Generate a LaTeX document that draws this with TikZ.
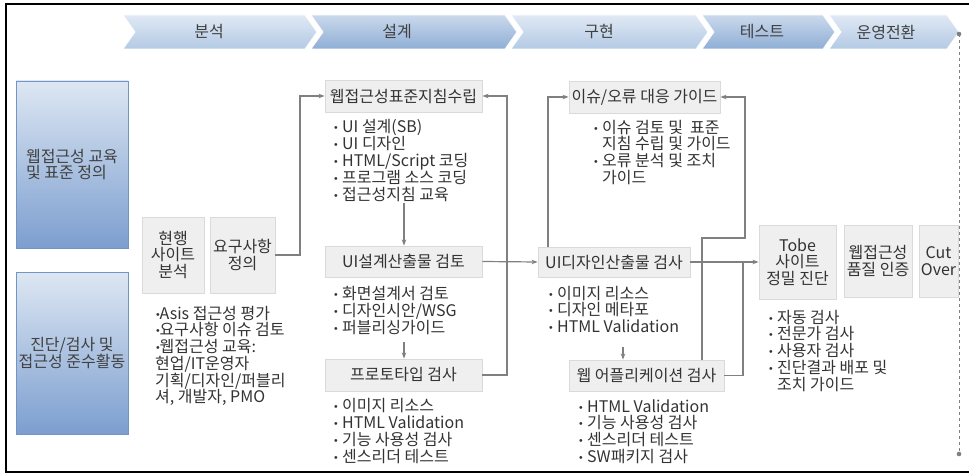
\documentclass[tikz,border=0pt]{standalone}
\usepackage{fontspec}
\setmainfont{Noto Sans CJK KR}
\newfontfamily\bulfont[Scale=0.6]{DejaVu Sans}
\usetikzlibrary{arrows.meta,calc}
\definecolor{txt}{HTML}{333333}
\definecolor{bantxt}{HTML}{404040}
\definecolor{boxfill}{HTML}{EFEFEF}
\definecolor{boxedge}{HTML}{DADADA}
\definecolor{lineg}{HTML}{808080}
\definecolor{lbtop}{HTML}{DDE7F3}
\definecolor{lbmid}{HTML}{A8C0E0}
\definecolor{lbbot}{HTML}{7C9ECF}
\definecolor{lbedge}{HTML}{7395C6}
\definecolor{chLtop}{HTML}{E0E9F4}
\definecolor{chLmid}{HTML}{C9D8EC}
\definecolor{chLbot}{HTML}{B3C9E4}
\definecolor{chDtop}{HTML}{CAD9EC}
\definecolor{chDmid}{HTML}{A4BEDF}
\definecolor{chDbot}{HTML}{8FAED5}
\newcommand\bu{\makebox[9pt][l]{\raisebox{1pt}{\bulfont •}}}
\newcommand\bv{\makebox[4.5pt][l]{\raisebox{1pt}{\bulfont •}}}
\newcommand\ind{\hspace*{9pt}}
\newcommand\fs{\rule{0pt}{15pt}}
\newcommand\chev[3]{\path[#3] (#1,15) -- (#2,15) -- ({#2+12},32) -- (#2,49) -- (#1,49) -- ({#1+12},32) -- cycle;}
\begin{document}
\begin{tikzpicture}[x=1pt,y=-1pt,
  gbox/.style={draw=boxedge, fill=boxfill, line width=0.9pt, inner sep=0pt, align=center, text=txt, font=\fontsize{16}{16.5}\selectfont},
  bbox/.style={draw=lbedge, line width=0.8pt, top color=lbtop, middle color=lbmid, bottom color=lbbot, inner sep=0pt, text=bantxt, font=\fontsize{16}{16.5}\selectfont},
  blist/.style={anchor=north west, inner sep=0pt, align=left, text=txt, font=\fontsize{16}{17}\selectfont},
  blist2/.style={blist, font=\fontsize{16}{16.7}\selectfont},
  chL/.style={draw=white, line width=0.8pt, top color=chLtop, middle color=chLmid, bottom color=chLbot},
  chD/.style={draw=white, line width=0.8pt, top color=chDtop, middle color=chDmid, bottom color=chDbot},
  bantext/.style={text=bantxt, font=\fontsize{16}{16}\selectfont, inner sep=0pt},
  conn/.style={draw=lineg, line width=1.2pt},
  arr/.style={conn, -{Stealth[length=6pt,width=4.5pt]}}]
\useasboundingbox (0,0) rectangle (969,473);
\fill[white] (0,0) rectangle (969,473);
% frame
\draw[line width=1.3pt] (990,4) -- (6,4) -- (6,472) -- (990,472);
% banner
\chev{123}{305}{chL}
\chev{311}{505}{chD}
\chev{511}{696}{chL}
\chev{702}{823}{chD}
\chev{829}{947}{chL}
\node[bantext] (b1) at (209,32) {분석};
\node[bantext] (b2) at (397,32) {설계};
\node[bantext] (b3) at (599,32) {구현};
\node[bantext] (b4) at (762,32) {테스트};
\node[bantext] (b5) at (886,32) {운영전환};
% dashed line
\coordinate (dtop) at (959,34);
\coordinate (dbot) at (959,454);
\draw[lineg, line width=0.8pt, dash pattern=on 3pt off 3pt] (dtop) -- (dbot);
\fill[lineg] (dtop) circle (2.3);
\fill[lineg] (dbot) circle (2.3);
% left blue boxes
\node[bbox, minimum width=112, minimum height=167, align=left] (lb1) at (72,164.5) {웹접근성 교육\\및 표준 정의};
\node[bbox, minimum width=112, minimum height=162, align=center] (lb2) at (72,353) {진단/검사 및\\접근성 준수활동};
% gray boxes
\node[gbox, minimum width=62, minimum height=76] (cur) at (173,255) {현행\\사이트\\분석};
\node[gbox, minimum width=65, minimum height=76] (req) at (242.5,255) {요구사항\\정의};
\node[gbox, minimum width=157, minimum height=32] (std) at (403.5,96) {웹접근성표준지침수립};
\node[gbox, minimum width=157, minimum height=31] (uid) at (403.5,261.5) {UI설계산출물 검토};
\node[gbox, minimum width=157, minimum height=32] (proto) at (403.5,375) {프로토타입 검사};
\node[gbox, minimum width=151, minimum height=32] (issue) at (644.5,97) {이슈/오류 대응 가이드};
\node[gbox, minimum width=152, minimum height=30] (uidd) at (614,262) {UI디자인산출물 검사};
\node[gbox, minimum width=155, minimum height=31] (web) at (646.5,375.5) {웹 어플리케이션 검사};
\node[gbox, minimum width=77, minimum height=74] (tobe) at (797.5,262) {Tobe\\사이트\\정밀 진단};
\node[gbox, minimum width=68, minimum height=72] (qual) at (878,261) {웹접근성\\품질 인증};
\node[gbox, minimum width=39, minimum height=72] (cut) at (938.5,261) {Cut\\Over};
% bullet lists
\node[blist2] (asis) at (155,304) {\fs\bv Asis 접근성 평가\\\bv 요구사항 이슈 검토\\\bv 웹접근성 교육:\\현업/IT운영자\\기획/디자인/퍼블리\\셔, 개발자, PMO};
\node[blist] (stdl) at (333,117) {\fs\bu UI 설계(SB)\\\bu UI 디자인\\\bu HTML/Script 코딩\\\bu 프로그램 소스 코딩\\\bu 접근성지침 교육};
\node[blist] (uidl) at (333,284) {\fs\bu 화면설계서 검토\\\bu 디자인시안/WSG\\\bu 퍼블리싱가이드};
\node[blist] (protol) at (333,396) {\fs\bu 이미지 리소스\\\bu HTML Validation\\\bu 기능 사용성 검사\\\bu 센스리더 테스트};
\node[blist2] (issuel) at (593,118) {\fs\bu 이슈 검토 및 \ 표준\\\ind 지침 수립 및 가이드\\\bu 오류 분석 및 조치\\\ind 가이드};
\node[blist2] (uiddl) at (548,284) {\fs\bu 이미지 리소스\\\bu 디자인 메타포\\\bu HTML Validation};
\node[blist2] (webl) at (578,397) {\fs\bu HTML Validation\\\bu 기능 사용성 검사\\\bu 센스리더 테스트\\\bu SW패키지 검사};
\node[blist2] (tobel) at (768,308) {\fs\bu 자동 검사\\\bu 전문가 검사\\\bu 사용자 검사\\\bu 진단결과 배포 및\\\ind 조치 가이드};
% connectors
\coordinate (j1) at (300,96);
\draw[arr] (req.east) -| (j1) -- (std.west);
\coordinate (a2) at (404,203);
\draw[arr] (a2) -- (a2 |- uid.north);
\coordinate (a3) at (404,342);
\draw[arr] (a3) -- (a3 |- proto.north);
\coordinate (j4) at (507,96);
\draw[arr] (proto.east) -| (j4) -- (std.east);
\draw[arr] (uid.east) -- (uidd.west);
\coordinate (c6) at (548,247);
\draw[arr] (c6) |- (issue.west);
\coordinate (a10) at (623,347);
\draw[arr] (a10) -- (a10 |- web.north);
\draw[arr] (uidd.east) -- (tobe.west);
\coordinate (j8) at (743,262);
\draw[conn] (web.east) -| (j8);
\coordinate (c9) at (702,360);
\coordinate (k9) at (745,238);
\draw[arr] (c9) |- (k9) |- (issue.east);
\end{tikzpicture}
\end{document}
